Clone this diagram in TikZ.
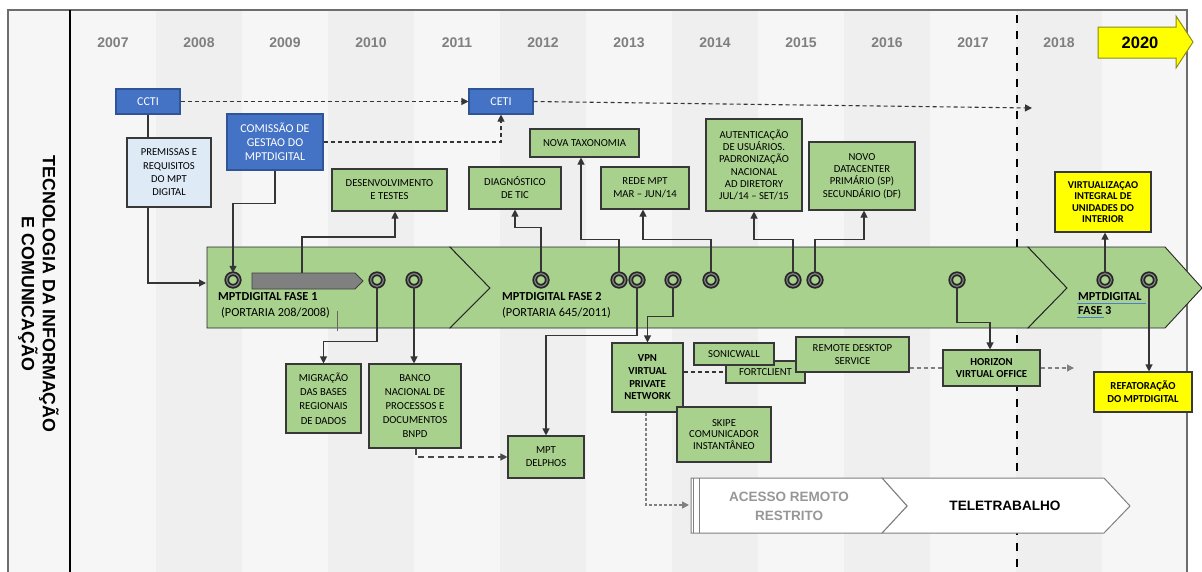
\documentclass[tikz,border=0pt]{standalone}
\usepackage{fontspec}
\setmainfont{Carlito}
\newfontfamily\arialf{Liberation Sans}
\usetikzlibrary{arrows.meta}
\definecolor{gfill}{HTML}{A9D18E}
\definecolor{bfill}{HTML}{4472C4}
\definecolor{bdraw}{HTML}{2F5597}
\definecolor{lbfill}{HTML}{DEEBF7}
\definecolor{edge}{HTML}{383838}
\definecolor{linec}{HTML}{353535}
\definecolor{yearc}{HTML}{7F7F7F}
\definecolor{colA}{HTML}{F6F6F6}
\definecolor{colB}{HTML}{EFEFEF}
\definecolor{ringd}{HTML}{262626}
\definecolor{ringl}{HTML}{8A8A8A}
\definecolor{ulblue}{HTML}{4A7FD0}
\definecolor{yel}{HTML}{FFFF00}
\definecolor{yeld}{HTML}{8C8C1A}
\definecolor{framec}{HTML}{6D6D6D}
\definecolor{greyt}{HTML}{979797}
\tikzset{
  box/.style={draw=edge, line width=1.1pt, align=center, inner sep=0pt,
    font=\fontsize{10.7}{13}\selectfont},
  gbox/.style={box, fill=gfill},
  bbox/.style={box, fill=bfill, draw=bdraw, text=white, font=\fontsize{12}{14}\selectfont},
  lbbox/.style={box, fill=lbfill},
  ybox/.style={box, fill=yel, font=\bfseries\fontsize{10.5}{11.6}\selectfont},
  boldbox/.style={gbox, font=\bfseries\fontsize{10.7}{12.7}\selectfont},
  yearlbl/.style={font=\arialf\bfseries\fontsize{14}{16}\selectfont, text=yearc, inner sep=0pt},
  phase/.style={font=\bfseries\fontsize{12.3}{14}\selectfont, inner sep=0pt, anchor=west},
  phasesub/.style={font=\fontsize{12.3}{14}\selectfont, inner sep=0pt, anchor=west},
  ms/.style={circle, draw=ringd, line width=1.8pt, double=ringl, double distance=1.1pt,
    fill=gfill, minimum size=12.5pt, inner sep=0pt},
  tip/.style={-{Triangle[length=7pt,width=7pt]}},
  conn/.style={draw=linec, line width=1.1pt, tip},
  plain/.style={draw=linec, line width=1.1pt},
  dline/.style={draw=linec, line width=1.1pt, dash pattern=on 4pt off 3pt},
  bdash/.style={draw=linec!90, line width=1.2pt, dash pattern=on 6pt off 4pt},
  gdash/.style={draw=gray, line width=1.2pt, dash pattern=on 4pt off 3pt},
  gdot/.style={draw=gray, line width=1.5pt, dash pattern=on 3pt off 2pt},
  vline/.style={draw=black, line width=2pt, dash pattern=on 8pt off 8pt},
  band/.style={fill=gfill, draw=black!85, line width=0.9pt},
  chev/.style={fill=white, draw=gray, line width=1pt},
}
\begin{document}
\begin{tikzpicture}[x=1pt, y=-1pt]
\useasboundingbox (0,0) rectangle (1202,571);
\fill[white] (0,0) rectangle (1202,571);

% panel and year columns
\fill[colA] (8,10) rectangle (1187,580);
\foreach \i in {1,3,5,7,9,11} \fill[colB] ({70+86*\i},10) rectangle ({156+86*\i},580);
\draw[vline] (1017,15) -- (1017,580);
\draw[framec, line width=1.3pt] (8,10) rectangle (1187,580);
\draw[black, line width=1.4pt] (70,10) -- (70,580);

% year labels
\foreach \yr [count=\k from 0] in {2007,2008,2009,2010,2011,2012,2013,2014,2015,2016,2017,2018}
  \node[yearlbl] (y\yr) at ({113+86*\k},43) {\yr};
\draw[fill=yel, draw=yeld, line width=1pt] (1098,27) -- (1176,27) -- (1176,16) -- (1193,42)
  -- (1176,68) -- (1176,58) -- (1098,58) -- cycle;
\node[font=\arialf\bfseries\fontsize{16.5}{18}\selectfont, inner sep=0pt] (y2020) at (1140,43) {2020};

% side title
\node[rotate=-90, align=center, inner sep=0pt,
  font=\arialf\bfseries\fontsize{17.8}{21}\selectfont] (title) at (38.5,294)
  {TECNOLOGIA DA INFORMAÇÃO\\E COMUNICAÇÃO};

% phase band
\draw[band] (207,247) -- (450,247) -- (490,288) -- (450,328) -- (207,328) -- cycle;
\draw[band] (450,247) -- (1028,247) -- (1067,288) -- (1028,328) -- (450,328) -- (490,288) -- cycle;
\draw[band] (1028,247) -- (1165,247) -- (1202,288) -- (1165,328) -- (1028,328) -- (1067,288) -- cycle;
\draw[fill=gray, draw=black!75, line width=0.8pt] (252,273) -- (355,273) -- (363,281) -- (355,289) -- (252,289) -- cycle;
\coordinate (barup) at (302,273);
\coordinate (f1in) at (206,283);
\draw[black!60, line width=0.6pt] (337,311) -- (337,331);

\node[phase] (f1a) at (218,297) {MPTDIGITAL FASE 1};
\node[phasesub] (f1b) at (221,313) {(PORTARIA 208/2008)};
\node[phase] (f2a) at (502,297) {MPTDIGITAL FASE 2};
\node[phasesub] (f2b) at (502,313) {(PORTARIA 645/2011)};
\node[phase] (f3a) at (1078,297) {MPTDIGITAL};
\node[phase] (f3b) at (1078,311) {FASE 3};
\draw[ulblue, line width=1pt] (1077,303) -- (1146,303);
\draw[ulblue, line width=1pt] (1077,317) -- (1104,317);

% milestones
\foreach \nm/\xx in {m1/233,m2/377,m3/414,m4/541,m5/619,m6/637,m7/673,m8/711,m9/793,m10/815,m11/957,m12/1105,m13/1149}
  \node[ms] (\nm) at (\xx,280) {};

% boxes above the band
\node[bbox, minimum width=64pt, minimum height=25pt] (ccti) at (148,101.5) {CCTI};
\node[bbox, minimum width=64pt, minimum height=25pt] (ceti) at (501,101.5) {CETI};
\node[bbox, minimum width=96pt, minimum height=56pt] (comissao) at (275,142) {COMISSÃO DE\\GESTAO DO\\MPTDIGITAL};
\node[lbbox, minimum width=84pt, minimum height=69pt, font=\fontsize{10.6}{13.3}\selectfont] (premissas) at (169,172.5) {PREMISSAS E\\REQUISITOS\\DO MPT\\DIGITAL};
\node[gbox, minimum width=115pt, minimum height=42pt] (desenv) at (389.5,190) {DESENVOLVIMENTO\\E TESTES};
\node[gbox, minimum width=92pt, minimum height=42pt] (diag) at (515,188) {DIAGNÓSTICO\\DE TIC};
\node[gbox, minimum width=109pt, minimum height=28pt] (nova) at (584.5,143) {NOVA TAXONOMIA};
\node[gbox, minimum width=88pt, minimum height=42pt] (rede) at (645,188) {REDE MPT\\MAR – JUN/14};
\node[gbox, minimum width=96pt, minimum height=92pt, font=\fontsize{10.7}{12.2}\selectfont] (autent) at (754,165)
  {AUTENTICAÇÃO\\DE USUÁRIOS.\\PADRONIZAÇÃO\\NACIONAL\\AD DIRETORY\\JUL/14 – SET/15};
\node[gbox, minimum width=106pt, minimum height=68pt, font=\fontsize{10.7}{12.3}\selectfont] (datacenter) at (862,176)
  {NOVO\\DATACENTER\\PRIMÁRIO (SP)\\SECUNDÁRIO (DF)};
\node[ybox, minimum width=96pt, minimum height=60pt] (virtual) at (1103,202)
  {VIRTUALIZAÇAO\\INTEGRAL DE\\UNIDADES DO\\INTERIOR};

% boxes below the band
\node[gbox, minimum width=75pt, minimum height=69pt, font=\fontsize{10.7}{14.2}\selectfont] (migracao) at (323.5,398.5)
  {MIGRAÇÃO\\DAS BASES\\REGIONAIS\\DE DADOS};
\node[gbox, minimum width=92pt, minimum height=84pt, font=\fontsize{10.7}{13.8}\selectfont] (banco) at (415,406)
  {BANCO\\NACIONAL DE\\PROCESSOS E\\DOCUMENTOS\\BNPD};
\node[gbox, minimum width=76pt, minimum height=42pt] (delphos) at (546,457) {MPT\\DELPHOS};
\node[boldbox, minimum width=71pt, minimum height=69pt] (vpn) at (647.5,377.5) {VPN\\VIRTUAL\\PRIVATE\\NETWORK};
\node[gbox, minimum width=79pt, minimum height=22pt] (fort) at (765.5,372) {FORTCLIENT};
\node[gbox, minimum width=80pt, minimum height=22pt] (sonic) at (734,354) {SONICWALL};
\node[gbox, minimum width=113pt, minimum height=35pt] (rds) at (852.5,354.5) {REMOTE DESKTOP\\SERVICE};
\node[gbox, minimum width=94pt, minimum height=55pt, font=\fontsize{10.7}{11.6}\selectfont] (skipe) at (724,434.5)
  {SKIPE\\COMUNICADOR\\INSTANTÂNEO};
\node[boldbox, minimum width=97pt, minimum height=36pt] (horizon) at (991.5,368) {HORIZON\\VIRTUAL OFFICE};
\node[ybox, minimum width=98pt, minimum height=40pt, font=\bfseries\fontsize{10.7}{13}\selectfont] (refat) at (1143,392)
  {REFATORAÇÃO\\DO MPTDIGITAL};

% remote access stages
\draw[chev] (882,478) -- (1104,478) -- (1130,506) -- (1104,533) -- (882,533) -- (907,506) -- cycle;
\draw[chev] (691,478) -- (882,478) -- (907,506) -- (882,533) -- (691,533) -- cycle;
\draw[gray, line width=0.9pt] (693.5,478) -- (693.5,533);
\draw[gray, line width=0.9pt] (699,478) -- (699,533);
\node[font=\arialf\bfseries\fontsize{13.5}{19}\selectfont, text=greyt, align=center, inner sep=0pt] (acesso) at (789,506)
  {ACESSO REMOTO\\RESTRITO};
\node[font=\arialf\bfseries\fontsize{13.6}{16}\selectfont, inner sep=0pt] (tele) at (1005,506) {TELETRABALHO};
\coordinate (acin) at (689,505);
\coordinate (cetiend) at (1032,108);
\coordinate (hzend) at (1074,368);

% connectors
\draw[plain] (ccti.south) -- (ccti.south |- premissas.north);
\draw[conn] (ccti.south |- premissas.south) |- (f1in);
\draw[conn] (comissao.south) -- ++(0,33) -| (m1.north);
\draw[dline, tip] (ccti.east) -- (ceti.west);
\draw[dline, tip] (comissao.east) -| (ceti.south);
\draw[dline, tip] (ceti.east) -- (cetiend);
\draw[conn] (barup) -- ++(0,-36) -| ([xshift=5.5pt]desenv.south);
\draw[conn] (m2.south) -- ++(0,54) -| (migracao.north);
\draw[conn] (m3.south) -- (m3.south |- banco.north);
\draw[bdash, tip] ([xshift=1pt]banco.south) |- (delphos.west);
\draw[conn] (m4.north) -- ++(0,-45) -| (diag.south);
\draw[conn] (m5.north) -- ++(0,-33) -| ([xshift=-3.5pt]nova.south);
\draw[conn] (m6.south) -- ++(0,48) -| (delphos.north);
\draw[conn] (m7.south) -- ++(0,29) -| (vpn.north);
\draw[conn] (m8.north) -- ++(0,-33) -| ([xshift=-2pt]rede.south);
\draw[conn] (m9.north) -- ++(0,-33) -| (autent.south);
\draw[conn] (m10.north) -- ++(0,-33) -| ([xshift=2pt]datacenter.south);
\draw[conn] (m11.south) -- ++(0,35) -| ([xshift=-1.5pt]horizon.north);
\draw[conn] (m12.north) -- (m12.north |- virtual.south);
\draw[conn] (m13.south) -- (m13.south |- refat.north);
\draw[dline] (vpn.east |- fort.west) -- (fort.west);
\draw[gdash] (rds.east |- horizon.west) -- (horizon.west);
\draw[gdash, tip] (horizon.east) -- (hzend);
\draw[gdot, tip] ([xshift=-1.5pt]vpn.south) |- (acin);
\end{tikzpicture}
\end{document}
